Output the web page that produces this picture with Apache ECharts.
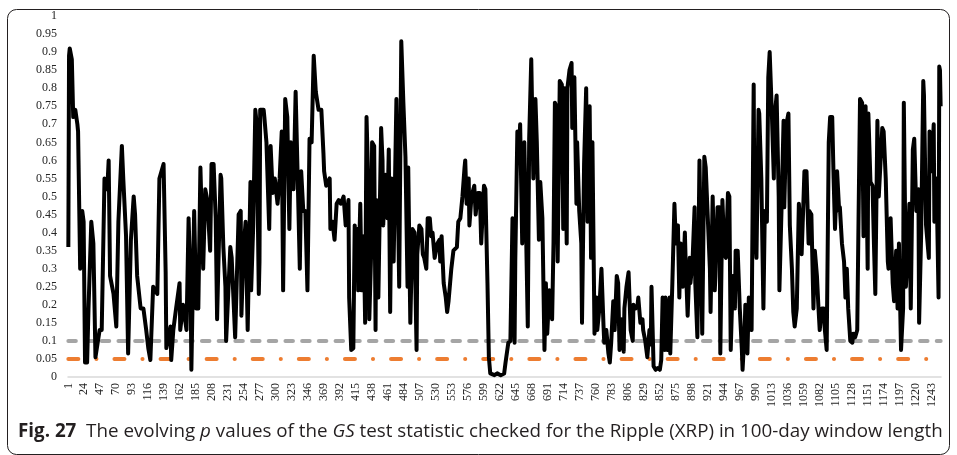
<!DOCTYPE html>
<html>
<head>
<meta charset="utf-8">
<script src="https://cdn.jsdelivr.net/npm/echarts@6/dist/echarts.min.js"></script>
<style>
  html, body { margin: 0; padding: 0; background: #fff; }
  #chart { width: 957px; height: 455px; }
</style>
</head>
<body>
<div id="chart"></div>
<script>
// number of 100-day windows on the x axis
var dayCount = 1256;
var labelStep = 23;

// p values of the GS statistic, [day, p]
var pValuePoints = [
  [1,0.36],[2,0.89],[3,0.91],[6,0.88],[8,0.72],[11,0.74],[14,0.70],[15,0.68],[18,0.30],[21,0.46],
  [23,0.43],[25,0.04],[28,0.04],[30,0.19],[34,0.43],[37,0.37],[40,0.055],[42,0.05],[46,0.13],[49,0.13],
  [53,0.55],[57,0.52],[59,0.60],[61,0.28],[66,0.23],[70,0.14],[73,0.43],[78,0.64],[80,0.55],[84,0.39],
  [87,0.065],[91,0.38],[95,0.50],[97,0.45],[100,0.28],[105,0.19],[109,0.19],[113,0.13],[116,0.08],[119,0.047],
  [123,0.25],[129,0.23],[132,0.55],[138,0.59],[141,0.29],[142,0.08],[148,0.14],[149,0.047],[152,0.13],[156,0.19],
  [161,0.26],[162,0.13],[166,0.20],[171,0.13],[174,0.44],[177,0.24],[178,0.02],[182,0.46],[185,0.19],[188,0.19],
  [191,0.58],[192,0.58],[195,0.30],[198,0.52],[201,0.49],[205,0.35],[207,0.59],[210,0.59],[213,0.44],[215,0.16],
  [220,0.56],[221,0.55],[224,0.36],[227,0.25],[228,0.10],[234,0.36],[236,0.33],[241,0.11],[246,0.45],[249,0.46],
  [250,0.17],[253,0.35],[256,0.43],[259,0.13],[263,0.54],[264,0.24],[267,0.42],[270,0.74],[272,0.70],[275,0.23],
  [276,0.32],[277,0.74],[282,0.74],[283,0.72],[286,0.65],[290,0.41],[292,0.64],[295,0.51],[298,0.55],[302,0.48],
  [305,0.55],[308,0.68],[310,0.24],[313,0.77],[316,0.72],[319,0.41],[321,0.65],[325,0.52],[328,0.79],[331,0.55],
  [334,0.30],[336,0.57],[339,0.46],[342,0.46],[345,0.24],[348,0.66],[351,0.65],[354,0.89],[357,0.79],[361,0.74],
  [365,0.74],[368,0.62],[369,0.57],[372,0.53],[377,0.55],[378,0.41],[381,0.43],[384,0.38],[387,0.48],[390,0.49],
  [393,0.48],[395,0.49],[397,0.50],[400,0.42],[404,0.49],[405,0.22],[408,0.075],[411,0.08],[413,0.42],[415,0.35],
  [417,0.41],[418,0.24],[421,0.48],[423,0.24],[426,0.39],[428,0.15],[430,0.72],[433,0.50],[434,0.16],[437,0.37],
  [438,0.65],[441,0.64],[443,0.13],[444,0.49],[447,0.22],[451,0.69],[453,0.60],[454,0.42],[457,0.56],[460,0.44],
  [462,0.63],[464,0.18],[466,0.55],[469,0.32],[473,0.77],[475,0.77],[477,0.25],[480,0.93],[483,0.76],[486,0.61],
  [489,0.25],[490,0.58],[493,0.15],[496,0.41],[499,0.40],[502,0.075],[503,0.34],[506,0.42],[509,0.41],[511,0.34],
  [513,0.33],[516,0.30],[518,0.44],[521,0.44],[523,0.39],[525,0.40],[528,0.33],[532,0.37],[535,0.38],[536,0.32],
  [538,0.39],[541,0.26],[544,0.22],[546,0.18],[548,0.21],[552,0.30],[555,0.35],[557,0.35],[560,0.36],[562,0.43],
  [565,0.44],[568,0.50],[571,0.58],[572,0.60],[574,0.48],[577,0.55],[578,0.42],[581,0.50],[585,0.53],[587,0.45],
  [590,0.51],[593,0.51],[595,0.37],[599,0.53],[601,0.52],[604,0.26],[606,0.055],[608,0.01],[614,0.005],[618,0.01],
  [623,0.005],[628,0.01],[630,0.04],[634,0.095],[637,0.10],[640,0.44],[643,0.095],[644,0.32],[647,0.68],[650,0.65],
  [651,0.70],[654,0.37],[657,0.65],[659,0.46],[662,0.14],[664,0.66],[667,0.88],[670,0.55],[673,0.77],[675,0.65],
  [678,0.38],[680,0.54],[683,0.44],[686,0.075],[688,0.26],[690,0.12],[693,0.24],[697,0.16],[699,0.37],[701,0.76],
  [703,0.75],[705,0.32],[708,0.82],[711,0.81],[713,0.41],[715,0.80],[718,0.37],[719,0.80],[722,0.85],[725,0.87],
  [726,0.69],[729,0.83],[732,0.48],[733,0.65],[736,0.46],[739,0.37],[740,0.15],[743,0.59],[746,0.80],[748,0.43],
  [751,0.75],[753,0.33],[755,0.65],[758,0.12],[761,0.22],[762,0.13],[765,0.19],[768,0.30],[771,0.14],[772,0.095],
  [775,0.13],[778,0.065],[780,0.04],[782,0.095],[785,0.21],[787,0.13],[790,0.28],[792,0.26],[794,0.075],[797,0.16],
  [800,0.07],[801,0.19],[804,0.25],[807,0.29],[810,0.13],[813,0.10],[814,0.20],[817,0.19],[820,0.20],[821,0.22],
  [824,0.15],[827,0.16],[828,0.13],[831,0.10],[834,0.055],[837,0.13],[839,0.09],[840,0.25],[843,0.03],[846,0.02],
  [849,0.025],[852,0.02],[854,0.047],[856,0.22],[859,0.075],[860,0.22],[863,0.075],[866,0.22],[867,0.065],[870,0.26],
  [873,0.48],[875,0.37],[878,0.42],[880,0.22],[882,0.37],[885,0.25],[888,0.40],[889,0.33],[892,0.17],[895,0.33],
  [896,0.26],[899,0.32],[902,0.47],[903,0.26],[906,0.11],[909,0.60],[911,0.35],[913,0.12],[916,0.61],[918,0.58],
  [921,0.44],[924,0.30],[925,0.18],[928,0.50],[931,0.24],[932,0.28],[935,0.47],[938,0.47],[939,0.065],[942,0.49],
  [945,0.34],[947,0.33],[950,0.51],[952,0.50],[954,0.075],[957,0.28],[960,0.19],[961,0.35],[964,0.35],[967,0.19],
  [970,0.075],[971,0.02],[974,0.13],[975,0.20],[978,0.065],[980,0.22],[981,0.21],[984,0.13],[987,0.81],[988,0.46],
  [991,0.33],[994,0.74],[995,0.73],[998,0.55],[1001,0.19],[1003,0.46],[1006,0.43],[1008,0.83],[1010,0.90],[1013,0.74],
  [1016,0.55],[1017,0.72],[1020,0.78],[1023,0.50],[1024,0.24],[1027,0.46],[1030,0.71],[1031,0.47],[1034,0.70],[1037,0.73],
  [1039,0.42],[1042,0.30],[1044,0.18],[1046,0.14],[1049,0.19],[1052,0.48],[1053,0.45],[1056,0.34],[1059,0.51],[1060,0.57],
  [1063,0.57],[1066,0.37],[1067,0.46],[1070,0.45],[1073,0.19],[1075,0.35],[1078,0.28],[1080,0.20],[1082,0.13],[1085,0.19],
  [1088,0.19],[1089,0.14],[1092,0.075],[1095,0.65],[1097,0.72],[1100,0.72],[1102,0.55],[1104,0.41],[1107,0.57],[1110,0.46],
  [1111,0.47],[1114,0.37],[1117,0.32],[1119,0.22],[1121,0.30],[1123,0.19],[1126,0.10],[1129,0.095],[1130,0.12],[1133,0.11],
  [1136,0.13],[1138,0.46],[1140,0.77],[1143,0.76],[1145,0.39],[1148,0.75],[1151,0.30],[1152,0.73],[1155,0.54],[1158,0.53],
  [1160,0.37],[1162,0.23],[1165,0.71],[1167,0.50],[1169,0.50],[1172,0.69],[1174,0.68],[1177,0.55],[1180,0.32],[1181,0.30],
  [1184,0.44],[1187,0.26],[1189,0.21],[1192,0.35],[1194,0.19],[1196,0.37],[1199,0.075],[1202,0.19],[1203,0.76],[1206,0.25],
  [1209,0.37],[1211,0.48],[1213,0.19],[1216,0.63],[1218,0.66],[1221,0.46],[1224,0.52],[1225,0.15],[1228,0.40],[1231,0.82],
  [1232,0.78],[1235,0.42],[1239,0.33],[1240,0.68],[1243,0.57],[1246,0.70],[1247,0.43],[1250,0.55],[1253,0.22],[1254,0.86],
  [1255,0.85],[1256,0.75]
];

// significance levels drawn as horizontal reference lines
var level10 = 0.1;
var level05 = 0.05;

var days = [];
for (var d = 1; d <= dayCount; d++) days.push(String(d));

var dom = document.getElementById('chart');
var myChart = echarts.init(dom, null, { renderer: 'canvas' });

var option = {
    animation: false,
    backgroundColor: '#fff',
    grid: { left: 68, width: 873, top: 16, bottom: 78 },
    xAxis: {
        type: 'category',
        data: days,
        boundaryGap: true,
        axisLine: { lineStyle: { color: '#d9d9d9', width: 1.5 } },
        axisTick: { show: false },
        axisLabel: {
            interval: labelStep - 1,
            rotate: 90,
            margin: 6,
            color: '#262626',
            fontFamily: 'Liberation Serif',
            fontSize: 12
        },
        splitLine: { show: false }
    },
    yAxis: {
        type: 'value',
        min: 0,
        max: 1,
        interval: 0.05,
        axisLine: { show: false },
        axisTick: { show: false },
        splitLine: { show: false },
        axisLabel: {
            margin: 11,
            color: '#262626',
            fontFamily: 'Liberation Serif',
            fontSize: 12
        }
    },
    series: [
        {
            // 10% level
            type: 'line',
            data: [[0, level10], [dayCount - 1, level10]],
            symbol: 'none',
            silent: true,
            lineStyle: { color: '#a5a5a5', width: 4, type: [7.5, 9.2], cap: 'round' }
        },
        {
            // 5% level
            type: 'line',
            data: [[0, level05], [dayCount - 1, level05]],
            symbol: 'none',
            silent: true,
            lineStyle: { color: '#ed7d31', width: 4, type: [10, 18, 0.1, 18], cap: 'round' }
        },
        {
            type: 'line',
            data: pValuePoints.map(function (p) { return [p[0] - 1, p[1]]; }),
            symbol: 'none',
            lineStyle: { color: '#000', width: 4, join: 'round' }
        }
    ],
    graphic: [
        {
            type: 'rect',
            shape: { x: 7.5, y: 9.5, width: 942, height: 445, r: 9 },
            style: { fill: null, stroke: '#231f20', lineWidth: 1 },
            silent: true
        },
        {
            type: 'text',
            x: 18,
            y: 432,
            style: {
                text: '{b|Fig. 27}  The evolving {i|p} values of the {i|GS} test statistic checked for the Ripple (XRP) in 100-day window length',
                fontFamily: 'Open Sans',
                fontSize: 18.8,
                fill: '#231f20',
                verticalAlign: 'middle',
                rich: {
                    b: { fontFamily: 'Open Sans', fontSize: 18.8, fontWeight: 'bold', fill: '#231f20' },
                    i: { fontFamily: 'Open Sans', fontSize: 18.8, fontStyle: 'italic', fill: '#231f20' }
                }
            }
        }
    ]
};

myChart.setOption(option);
window.addEventListener('resize', myChart.resize);
</script>
</body>
</html>
